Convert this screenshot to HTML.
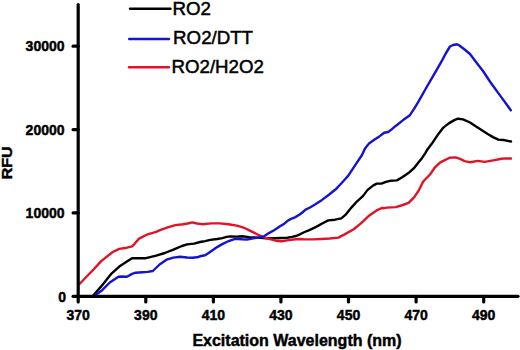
<!DOCTYPE html><html><head><meta charset="utf-8"><style>html,body{margin:0;padding:0;background:#fff;}svg{display:block;}text{font-family:"Liberation Sans",sans-serif;}</style></head><body>
<svg width="520" height="350" viewBox="0 0 520 350">
<rect width="520" height="350" fill="#fff"/>
<g fill="none" stroke-width="2.4" stroke-linejoin="round" stroke-linecap="round">
<polyline points="92.6,296.2 101.2,286.4 111.5,273.6 120.1,265.9 126.9,261.6 132.1,258.2 135.6,258.2 145.9,258.2 156.2,255.6 164.8,253.0 173.4,249.6 181.9,246.0 187.1,244.4 194.1,243.6 200.0,242.0 205.1,241.1 210.3,239.9 217.1,239.0 222.3,238.1 226.6,236.9 230.0,236.4 236.9,236.6 242.1,236.2 249.1,237.1 257.6,237.6 266.2,238.3 274.8,238.3 287.3,237.8 291.9,236.9 296.0,236.0 300.0,234.3 304.6,232.0 308.8,230.3 313.1,228.3 318.0,225.9 322.1,223.5 328.3,220.4 335.1,219.7 341.3,218.3 345.4,214.9 351.4,207.6 357.1,201.3 362.9,196.1 367.6,189.9 373.4,185.4 376.8,183.6 381.4,183.6 385.9,181.9 390.1,180.8 396.9,180.4 402.6,177.0 408.4,173.1 414.1,168.0 418.6,162.3 422.1,157.9 425.5,152.8 427.4,149.4 431.9,143.6 437.6,135.1 443.4,127.6 449.1,123.1 454.8,119.9 458.2,118.7 463.1,119.4 470.0,122.5 475.3,126.1 481.5,130.0 487.7,134.0 493.0,137.1 498.3,139.6 503.6,140.0 508.9,141.1 511.0,141.5" stroke="#000"/>
<polyline points="79.5,284.0 92.6,270.5 101.2,261.1 112.4,252.3 119.2,248.9 126.9,247.7 132.1,246.3 134.6,243.8 139.1,238.6 147.6,234.3 156.2,231.8 160.0,230.1 167.7,227.4 175.4,225.1 183.1,224.3 187.7,223.5 192.3,222.4 196.9,223.5 200.0,223.9 202.6,224.2 211.2,223.4 219.8,223.4 228.4,224.2 236.9,225.6 242.1,227.1 245.6,228.5 250.8,231.1 257.6,234.5 264.5,237.6 270.0,239.0 275.8,240.7 281.5,241.3 287.3,240.4 293.1,239.5 300.0,239.0 304.1,239.4 312.6,239.4 321.2,239.0 329.8,238.5 338.4,237.6 344.6,234.4 353.7,229.3 360.6,223.6 368.6,216.1 376.6,210.4 382.3,207.8 383.1,208.4 387.1,207.6 395.7,207.1 402.9,205.0 408.6,202.9 414.3,197.1 418.6,190.7 422.9,182.1 424.6,180.0 430.0,174.5 435.0,167.3 440.0,162.6 442.9,161.1 449.7,157.7 455.4,157.4 460.0,158.9 464.6,161.1 470.3,162.3 477.6,160.9 484.8,161.9 493.2,160.4 501.5,158.8 506.0,158.4 511.0,158.5" stroke="#e01428"/>
<polyline points="94.4,295.7 101.2,291.1 109.8,282.5 118.4,276.8 121.8,276.5 126.9,276.8 132.1,273.9 135.6,272.7 142.5,272.2 147.6,271.9 152.8,271.0 159.6,264.5 166.5,259.7 173.4,257.6 180.2,256.8 187.0,257.5 192.4,257.8 197.0,257.3 201.0,256.0 205.1,255.3 208.6,253.1 212.9,250.1 217.1,247.1 222.3,244.1 226.6,242.0 230.0,240.7 235.2,238.8 242.1,239.3 246.9,239.5 251.9,238.6 256.0,237.8 258.5,237.5 263.7,236.5 268.9,233.1 274.1,230.2 280.0,226.2 283.7,224.1 288.2,220.3 291.1,218.9 294.9,217.4 299.3,214.8 302.3,212.5 305.6,209.6 310.0,207.5 315.0,204.5 322.0,199.9 328.9,194.8 335.7,189.3 341.2,183.5 345.3,179.0 348.3,175.6 352.9,168.7 357.4,161.9 362.0,155.0 365.0,148.4 369.0,143.6 374.6,139.6 379.4,136.4 384.2,132.8 388.2,132.0 391.4,129.6 395.0,126.4 396.7,125.2 403.1,120.1 409.6,115.6 414.7,107.9 418.6,101.4 425.0,90.0 430.7,80.2 436.4,70.3 442.1,60.4 446.0,53.0 450.0,46.5 453.0,45.0 457.0,44.2 459.0,45.2 464.0,49.0 470.0,54.0 476.0,62.0 483.0,71.0 490.6,82.5 500.9,96.6 510.8,110.2" stroke="#1414d0"/>
</g>
<g stroke="#000" stroke-width="3.2" stroke-linecap="round" fill="none">
<line x1="78.2" y1="4.5" x2="78.2" y2="296.3"/>
<line x1="78.2" y1="296.3" x2="518" y2="296.3"/>
<line x1="78.2" y1="296.3" x2="78.2" y2="301.90000000000003"/>
<line x1="145.8" y1="296.3" x2="145.8" y2="301.90000000000003"/>
<line x1="213.4" y1="296.3" x2="213.4" y2="301.90000000000003"/>
<line x1="280.9" y1="296.3" x2="280.9" y2="301.90000000000003"/>
<line x1="348.5" y1="296.3" x2="348.5" y2="301.90000000000003"/>
<line x1="416.1" y1="296.3" x2="416.1" y2="301.90000000000003"/>
<line x1="483.7" y1="296.3" x2="483.7" y2="301.90000000000003"/>
<line x1="73.10000000000001" y1="296.3" x2="78.2" y2="296.3"/>
<line x1="73.10000000000001" y1="212.9" x2="78.2" y2="212.9"/>
<line x1="73.10000000000001" y1="129.6" x2="78.2" y2="129.6"/>
<line x1="73.10000000000001" y1="46.2" x2="78.2" y2="46.2"/>
</g>
<g font-weight="bold" font-size="14" fill="#000" stroke="#000" stroke-width="0.45">
<text transform="translate(78.20,320.4) scale(1,1.07)" text-anchor="middle">370</text>
<text transform="translate(145.78,320.4) scale(1,1.07)" text-anchor="middle">390</text>
<text transform="translate(213.36,320.4) scale(1,1.07)" text-anchor="middle">410</text>
<text transform="translate(280.94,320.4) scale(1,1.07)" text-anchor="middle">430</text>
<text transform="translate(348.52,320.4) scale(1,1.07)" text-anchor="middle">450</text>
<text transform="translate(416.10,320.4) scale(1,1.07)" text-anchor="middle">470</text>
<text transform="translate(483.68,320.4) scale(1,1.07)" text-anchor="middle">490</text>
<text transform="translate(66.0,301.60) scale(1,1.1)" text-anchor="end">0</text>
<text transform="translate(64.5,218.23) scale(1,1.1)" text-anchor="end">10000</text>
<text transform="translate(64.5,134.86) scale(1,1.1)" text-anchor="end">20000</text>
<text transform="translate(64.5,51.49) scale(1,1.1)" text-anchor="end">30000</text>
</g>
<text x="297" y="345.6" font-weight="bold" font-size="16" text-anchor="middle" stroke="#000" stroke-width="0.45">Excitation Wavelength (nm)</text>
<text transform="translate(12.3,162.9) rotate(-90) scale(1,0.94)" font-weight="bold" font-size="16" text-anchor="middle" stroke="#000" stroke-width="0.45">RFU</text>
<line x1="130" y1="8.8" x2="170.5" y2="8.8" stroke="#000" stroke-width="2.4" stroke-linecap="round"/>
<text x="172.5" y="14.8" font-size="18.7" fill="#000" stroke="#000" stroke-width="0.5">RO2</text>
<line x1="129.2" y1="39" x2="169" y2="39" stroke="#1414d0" stroke-width="2.4" stroke-linecap="round"/>
<text x="173.1" y="44.0" font-size="18.7" fill="#000" stroke="#000" stroke-width="0.5">RO2/DTT</text>
<line x1="129" y1="67.2" x2="169" y2="67.2" stroke="#e01428" stroke-width="2.4" stroke-linecap="round"/>
<text x="171.5" y="73.4" font-size="18.7" fill="#000" stroke="#000" stroke-width="0.5">RO2/H2O2</text>
</svg></body></html>
